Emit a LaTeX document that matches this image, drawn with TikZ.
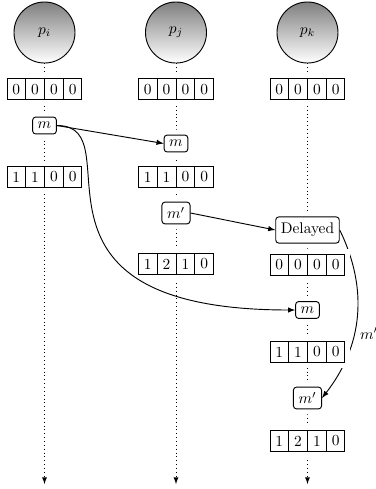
\documentclass[tikz,border=0pt]{standalone}
\usetikzlibrary{shapes.multipart,arrows}
\begin{document}
\begin{tikzpicture}[x=0.649pt,y=-0.649pt,line width=0.6pt,
  proc/.style={circle,draw,minimum size=39.6pt,inner sep=0pt,top color=black!50,bottom color=white},
  halo/.style={preaction={draw=white,line width=7pt}},
  vec/.style={rectangle split,rectangle split horizontal,rectangle split parts=4,draw,fill=white,halo},
  msg/.style={draw,rounded corners=2pt,fill=white,halo},
  life/.style={dotted,line width=0.5pt,-latex},
  arr/.style={-latex}]
\useasboundingbox (0,0) rectangle (376,489);
% processes
\node[proc] (pi) at (44.5,32.5) {$p_i$};
\node[proc] (pj) at (176,32.5) {$p_j$};
\node[proc] (pk) at (307.5,32.5) {$p_k$};
\coordinate (ei) at (44.5,484);
\coordinate (ej) at (176,484);
\coordinate (ek) at (307.5,484);
\draw[life] (pi) -- (ei);
\draw[life] (pj) -- (ej);
\draw[life] (pk) -- (ek);
% messages
\node[msg] (mi) at (44.5,125.5) {$m$};
\node[msg] (mj) at (176,143.5) {$m$};
\node[msg] (mjp) at (176,213) {$m'$};
\node[msg,minimum height=17pt] (del) at (307.5,230) {Delayed};
\node[msg] (mk) at (307.5,310) {$m$};
\node[msg] (mkp) at (307.5,398) {$m'$};
% delayed delivery
\draw[arr] (del.east) to[bend left=32] node[pos=0.6,right=3.5pt,inner sep=0pt] {$m'$} (mkp.east);
% vector clocks
\node[vec] (vi0) at (44.5,89.3) {0\nodepart{two}0\nodepart{three}0\nodepart{four}0};
\node[vec] (vi1) at (44.5,177) {1\nodepart{two}1\nodepart{three}0\nodepart{four}0};
\node[vec] (vj0) at (176,89.3) {0\nodepart{two}0\nodepart{three}0\nodepart{four}0};
\node[vec] (vj1) at (176,177) {1\nodepart{two}1\nodepart{three}0\nodepart{four}0};
\node[vec] (vj2) at (176,264) {1\nodepart{two}2\nodepart{three}1\nodepart{four}0};
\node[vec] (vk0) at (307.5,89.3) {0\nodepart{two}0\nodepart{three}0\nodepart{four}0};
\node[vec] (vk1) at (307.5,265) {0\nodepart{two}0\nodepart{three}0\nodepart{four}0};
\node[vec] (vk2) at (307.5,352) {1\nodepart{two}1\nodepart{three}0\nodepart{four}0};
\node[vec] (vk3) at (307.5,441) {1\nodepart{two}2\nodepart{three}1\nodepart{four}0};
% sends
\draw[arr] (mi.east) -- (mj.west);
\draw[arr] (mi.east) .. controls +(80,0) and +(-297,0) .. (mk.west);
\draw[arr] (mjp.east) -- (del.west);
\end{tikzpicture}
\end{document}
